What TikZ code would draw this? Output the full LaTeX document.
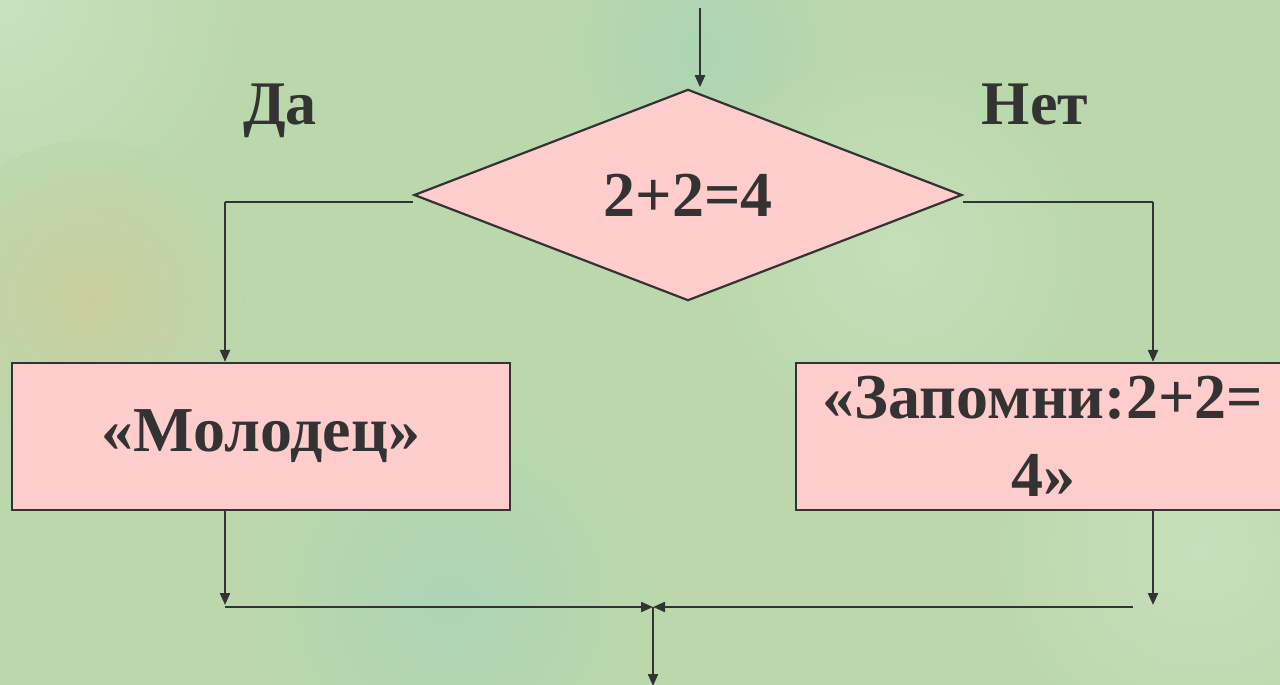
\documentclass[tikz,border=0pt]{standalone}
\usepackage{fontspec}
\setmainfont{Liberation Serif}
\usetikzlibrary{shapes.geometric,arrows.meta,calc}
\definecolor{bgg}{RGB}{186,216,172}
\definecolor{bgl}{RGB}{208,230,198}
\definecolor{bgo}{RGB}{214,200,150}
\definecolor{bgb}{RGB}{165,210,185}
\definecolor{boxp}{RGB}{255,204,204}
\definecolor{ink}{RGB}{51,51,51}
\tikzset{
  blk/.style={draw=ink, line width=2.2pt, fill=boxp, inner sep=0pt, font=\fontsize{64}{78}\selectfont\bfseries, text=ink, align=center},
  lbl/.style={font=\fontsize{62}{75}\selectfont\bfseries, text=ink, anchor=base},
  con/.style={draw=ink, line width=2.2pt},
  arr/.style={con, -{Triangle[length=12pt,width=10pt]}}
}
\begin{document}
\begin{tikzpicture}[x=1pt,y=-1pt]
\useasboundingbox (0,0) rectangle (1280,685);
\clip (0,0) rectangle (1280,685);
% background
\fill[bgg] (0,0) rectangle (1280,685);
\shade[inner color=bgl, outer color=bgg, opacity=0.7] (0,0) circle (260);
\shade[inner color=bgo, outer color=bgg, opacity=0.6] (90,300) circle (160);
\shade[inner color=bgb, outer color=bgg, opacity=0.6] (700,50) circle (150);
\shade[inner color=bgb, outer color=bgg, opacity=0.6] (450,600) circle (200);
\shade[inner color=bgl, outer color=bgg, opacity=0.6] (1200,550) circle (220);
\shade[inner color=bgl, outer color=bgg, opacity=0.5] (900,250) circle (200);
% nodes
\node[blk, shape=diamond, minimum width=548pt, minimum height=210pt] (dia) at (688,195) {2+2=4};
\node[blk, shape=rectangle, minimum width=498pt, minimum height=147pt] (mol) at (261,436.5) {«Молодец»};
\node[blk, shape=rectangle, minimum width=494pt, minimum height=147pt] (zap) at (1043,436.5) {«Запомни:2+2=\\4»};
\node[lbl] (da) at (280,124) {Да};
\node[lbl] (net) at (1035,124) {Нет};
\coordinate (top) at (700,8);
\coordinate (lcor) at (225,202);
\coordinate (rcor) at (1153,202);
\coordinate (lbot) at (225,607);
\coordinate (rbot) at (1153,607);
\coordinate (rstart) at (1133,607);
\coordinate (merge) at (653,607);
\coordinate (exit) at (653,686);
% connectors
\draw[arr] (top) -- ([xshift=12pt,yshift=1pt]dia.north);
\draw[con] ([yshift=-7pt]dia.west) -- (lcor);
\draw[arr] (lcor) -- (lcor |- mol.north);
\draw[con] ([yshift=-7pt]dia.east) -- (rcor);
\draw[arr] (rcor) -- (rcor |- zap.north);
\draw[arr] (lbot |- mol.south) -- ([yshift=2pt]lbot);
\draw[arr] (rbot |- zap.south) -- ([yshift=2pt]rbot);
\draw[arr] (lbot) -- (merge);
\draw[arr] (rstart) -- (merge);
\draw[arr] (merge) -- (exit);
\end{tikzpicture}
\end{document}
